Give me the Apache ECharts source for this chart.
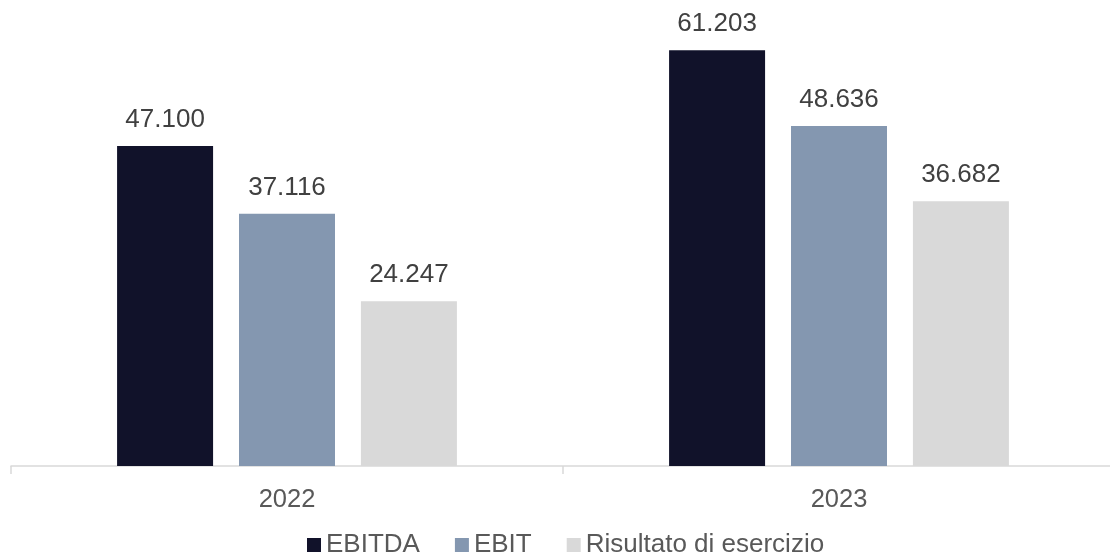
<!DOCTYPE html>
<html>
<head>
<meta charset="utf-8">
<script src="https://cdn.jsdelivr.net/npm/echarts@6/dist/echarts.min.js"></script>
<style>html,body{margin:0;padding:0;background:#fff;}#c{width:1110px;height:556px;}</style>
</head>
<body>
<div id="c"></div>
<script>
const categories = ['2022', '2023'];
const seriesNames = ['EBITDA', 'EBIT', 'Risultato di esercizio'];
// bar heights
const ebitda = [47100, 61203];
const ebit = [37116, 50040];
const risultato = [24247, 38970];
// value labels as printed in the picture
const ebitdaLabels = ['47.100', '61.203'];
const ebitLabels = ['37.116', '48.636'];
const risultatoLabels = ['24.247', '36.682'];
const colors = ['#11122a', '#8497b0', '#d9d9d9'];

const chart = echarts.init(document.getElementById('c'), null, {renderer: 'canvas'});
const values = [ebitda, ebit, risultato];
const labels = [ebitdaLabels, ebitLabels, risultatoLabels];
chart.setOption({
  animation: false,
  textStyle: {fontFamily: 'Liberation Sans'},
  grid: {left: 11, top: 4, right: -5, bottom: 90, containLabel: false, outerBoundsMode: 'none'},
  legend: {
    left: 302, top: 527,
    itemWidth: 14, itemHeight: 14, itemGap: 35,
    icon: 'rect',
    textStyle: {fontSize: 26, color: '#595959', fontFamily: 'Liberation Sans'},
    data: seriesNames
  },
  xAxis: {
    type: 'category',
    data: categories,
    axisLine: {lineStyle: {color: '#d9d9d9', width: 1.5}},
    axisTick: {show: true, length: 8, lineStyle: {color: '#d9d9d9', width: 1.5}},
    axisLabel: {fontSize: 25.5, color: '#595959', margin: 21, fontFamily: 'Liberation Sans'}
  },
  yAxis: {
    type: 'value', min: 0, max: 68000, show: false,
    splitLine: {show: false}
  },
  series: seriesNames.map((n, i) => ({
    name: n,
    type: 'bar',
    data: values[i],
    barWidth: 96,
    barGap: '27%',
    itemStyle: {color: colors[i]},
    label: {
      show: true, position: 'top', distance: 13,
      fontSize: 26, color: '#404040', fontFamily: 'Liberation Sans',
      formatter: p => labels[i][p.dataIndex]
    }
  }))
});
</script>
</body>
</html>
